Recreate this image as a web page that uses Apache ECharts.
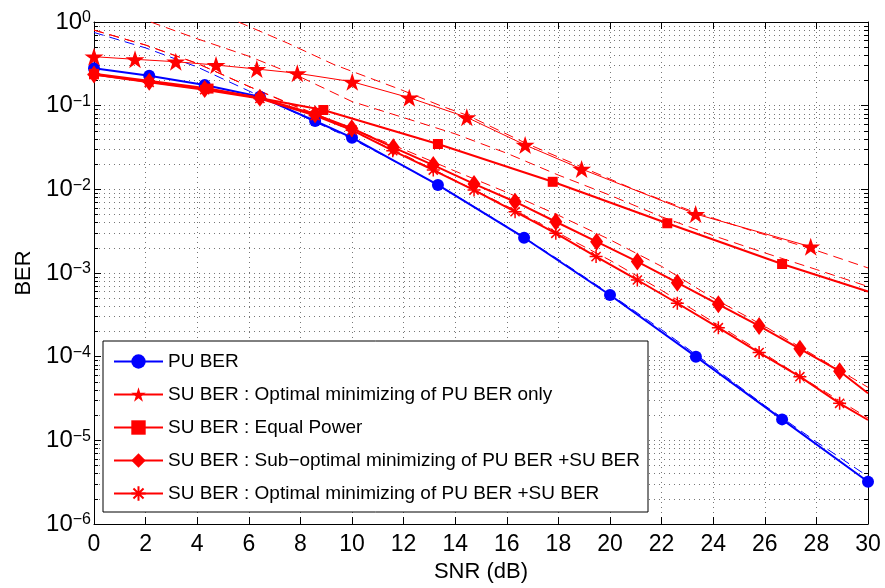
<!DOCTYPE html>
<html><head><meta charset="utf-8">
<script src="https://cdn.jsdelivr.net/npm/echarts@6/dist/echarts.min.js"></script>
<style>html,body{margin:0;padding:0;background:#fff}#c{width:885px;height:588px}</style>
</head><body><div id="c"></div>
<script>
// ---- data ----
const puSnr = [0, 2.14, 4.29, 6.43, 8.57, 10, 13.33, 16.67, 20, 23.33, 26.67, 30];
const puBer = [0.28, 0.228, 0.177, 0.128, 0.0656, 0.0414, 0.0113, 0.00264, 5.46e-4, 1.0e-4, 1.78e-5, 3.2e-6];

const starSnr = [0, 1.59, 3.17, 4.73, 6.31, 7.88, 10.01, 12.22, 14.45, 16.71, 18.9, 23.32, 27.78];
const starBer = [0.385, 0.358, 0.335, 0.306, 0.274, 0.244, 0.193, 0.1245, 0.0726, 0.0339, 0.0175, 0.00507, 0.00206];

const sqSnr = [0, 4.44, 8.89, 13.33, 17.78, 22.22, 26.67, 30];
const sqBer = [0.24, 0.16, 0.0887, 0.0348, 0.0123, 0.00393, 0.00128, 6.0e-4];

const diaSnr = [0, 2.14, 4.29, 6.43, 8.57, 9.99, 11.6, 13.15, 14.73, 16.32, 17.9, 19.48, 21.06, 22.61, 24.2, 25.78, 27.36, 28.9, 30];
const diaBer = [0.235, 0.193, 0.158, 0.124, 0.0788, 0.0537, 0.0318, 0.0195, 0.0116, 0.00711, 0.0041, 0.00237, 0.00137, 7.66e-4, 4.22e-4, 2.33e-4, 1.24e-4, 6.7e-5, 3.65e-5];

const astSnr = [0, 2.14, 4.29, 6.43, 8.57, 10, 11.58, 13.15, 14.73, 16.32, 17.9, 19.46, 21.06, 22.61, 24.2, 25.78, 27.36, 28.9, 30];
const astBer = [0.235, 0.19, 0.155, 0.122, 0.076, 0.051, 0.029, 0.017, 0.0098, 0.0054, 0.00298, 0.00157, 8.25e-4, 4.35e-4, 2.22e-4, 1.12e-4, 5.77e-5, 2.77e-5, 1.75e-5];

// approximations (dashed)
const approxSnr = [0, 2, 4, 6, 8, 10, 12, 14, 16, 18, 20, 22, 24, 26, 28, 30];
const puApprox = [0.75, 0.49, 0.29, 0.15, 0.077, 0.04, 0.019, 0.0085, 0.0036, 0.00145, 5.6e-4, 2.1e-4, 7.5e-5, 2.6e-5, 9.6e-6, 3.7e-6];
const diaApprox = [0.80, 0.53, 0.32, 0.17, 0.094, 0.053, 0.03, 0.0165, 0.0092, 0.0049, 0.0025, 0.0012, 5.0e-4, 2.3e-4, 1.0e-4, 4.3e-5];
const astApprox = [0.80, 0.53, 0.32, 0.17, 0.092, 0.05, 0.026, 0.0128, 0.0063, 0.0030, 0.00142, 6.2e-4, 2.6e-4, 1.07e-4, 4.4e-5, 1.85e-5];
const sqApproxSnr = [2.2, 4, 6, 8, 10, 12, 14, 16, 18, 20, 22, 24, 26, 28, 30];
const sqApprox = [1.0, 0.63, 0.39, 0.22, 0.112, 0.072, 0.046, 0.027, 0.0148, 0.0085, 0.0047, 0.0028, 0.00174, 0.0011, 6.9e-4];
const starApproxSnr = [5.6, 7.5, 9.3, 11.9, 13.5, 14.5, 16.7, 18.9, 21, 23.3, 25.5, 27.8, 30];
const starApprox = [1.0, 0.56, 0.31, 0.155, 0.098, 0.076, 0.036, 0.0185, 0.0098, 0.0053, 0.0032, 0.00195, 0.00115];

const names = [
  'PU BER',
  'SU BER : Optimal minimizing of PU BER only',
  'SU BER : Equal Power',
  'SU BER : Sub\u2212optimal minimizing of PU BER +SU BER',
  'SU BER : Optimal minimizing of PU BER +SU BER'
];

// ---- styling ----
const FONT = '"Liberation Sans", Arial, Helvetica, sans-serif';
const RED = '#ff0000', BLUE = '#0000ff';
const STAR = 'path://M0,-1L0.2245,-0.309L0.951,-0.309L0.3633,0.118L0.5878,0.809L0,0.382L-0.5878,0.809L-0.3633,0.118L-0.951,-0.309L-0.2245,-0.309Z';
const ASTER = 'path://M0,-1L0,1M-1,0L1,0M-0.7,-0.7L0.7,0.7M-0.7,0.7L0.7,-0.7';
const GRID_LINE = {color: '#777', type: [1, 4], width: 1};

function pairs(xs, ys, hideLastSymbol) {
  return xs.map((x, i) => {
    if (hideLastSymbol && i === xs.length - 1) return {value: [x, ys[i]], symbol: 'none'};
    return [x, ys[i]];
  });
}
function solid(name, xs, ys, color, width, symbol, size, hideLast, extraItem) {
  return {
    name, type: 'line', data: pairs(xs, ys, hideLast), xAxisIndex: 0, yAxisIndex: 0,
    symbol, symbolSize: size, showSymbol: true, showAllSymbol: true,
    lineStyle: {color, width}, itemStyle: Object.assign({color}, extraItem || {}),
    z: 3, animation: false
  };
}
function dashed(xs, ys, color) {
  return {
    name: '_approx', type: 'line', data: pairs(xs, ys, false), symbol: 'none', silent: true,
    lineStyle: {color, width: 1, type: [10, 6]}, z: 2, animation: false
  };
}

const chart = echarts.init(document.getElementById('c'), null, {renderer: 'canvas'});
const axisLineStyle = {show: true, onZero: false, lineStyle: {color: '#000', width: 1}};
const yLabelFmt = v => {
  const e = Math.round(Math.log10(v));
  return '{b|10}{s|' + (e === 0 ? '0' : '\u2212' + (-e)) + '}';
};

chart.setOption({
  backgroundColor: '#fff',
  animation: false,
  grid: {left: 94, right: 17, top: 22, bottom: 64, containLabel: false},
  legend: {
    data: names.map(n => ({name: n})),
    orient: 'vertical', left: 103, top: 341,
    padding: [11, 8, 9, 10], itemGap: 14, itemWidth: 49, itemHeight: 18,
    backgroundColor: '#fff', borderColor: '#000', borderWidth: 1, borderRadius: 0,
    textStyle: {fontSize: 19, fontFamily: FONT, color: '#000', lineHeight: 19},
    selectedMode: false
  },
  xAxis: [
    {type: 'value', min: 0, max: 30, interval: 2, position: 'bottom',
     axisLine: axisLineStyle, axisTick: {inside: true, length: 7, lineStyle: {color: '#000'}},
     axisLabel: {fontSize: 23, fontFamily: FONT, color: '#000', margin: 9},
     splitLine: {show: true, lineStyle: GRID_LINE},
     name: 'SNR (dB)', nameLocation: 'middle', nameGap: 37,
     nameTextStyle: {fontSize: 22, fontFamily: FONT, color: '#000'}},
    {type: 'value', min: 0, max: 30, interval: 2, position: 'top',
     axisLine: axisLineStyle, axisTick: {inside: true, length: 7, lineStyle: {color: '#000'}},
     axisLabel: {show: false}, splitLine: {show: false}}
  ],
  yAxis: [
    {type: 'log', logBase: 10, min: 1e-6, max: 1, splitNumber: 6, position: 'left',
     axisLine: axisLineStyle, axisTick: {inside: true, length: 7, lineStyle: {color: '#000'}},
     minorTick: {show: true, splitNumber: 9, length: 4, lineStyle: {color: '#000'}},
     splitLine: {show: true, lineStyle: GRID_LINE},
     minorSplitLine: {show: true, lineStyle: GRID_LINE},
     axisLabel: {formatter: yLabelFmt, margin: 3, color: '#000',
       rich: {
         b: {fontSize: 24, fontFamily: FONT, color: '#000', lineHeight: 24, padding: [9, 0, 9, 0], verticalAlign: 'middle'},
         s: {fontSize: 16, fontFamily: FONT, color: '#000', lineHeight: 16, verticalAlign: 'top'}
       }},
     name: 'BER', nameLocation: 'middle', nameGap: 59,
     nameTextStyle: {fontSize: 22, fontFamily: FONT, color: '#000'}},
    {type: 'log', logBase: 10, min: 1e-6, max: 1, splitNumber: 6, position: 'right',
     axisLine: axisLineStyle, axisTick: {inside: true, length: 7, lineStyle: {color: '#000'}},
     minorTick: {show: true, splitNumber: 9, length: 4, lineStyle: {color: '#000'}},
     axisLabel: {show: false}, splitLine: {show: false}, minorSplitLine: {show: false}}
  ],
  series: [
    dashed(approxSnr, puApprox, BLUE),
    dashed(approxSnr, diaApprox, RED),
    dashed(approxSnr, astApprox, RED),
    dashed(sqApproxSnr, sqApprox, RED),
    dashed(starApproxSnr, starApprox, RED),
    solid(names[0], puSnr, puBer, BLUE, 2, 'circle', 12, false),
    solid(names[1], starSnr, starBer, RED, 1, STAR, [19, 18], false),
    solid(names[2], sqSnr, sqBer, RED, 2, 'rect', 10, true),
    solid(names[3], diaSnr, diaBer, RED, 2, 'diamond', [13, 18], true),
    solid(names[4], astSnr, astBer, RED, 2, ASTER, 13, true, {borderColor: RED, borderWidth: 1.5})
  ]
});
</script>
</body></html>
